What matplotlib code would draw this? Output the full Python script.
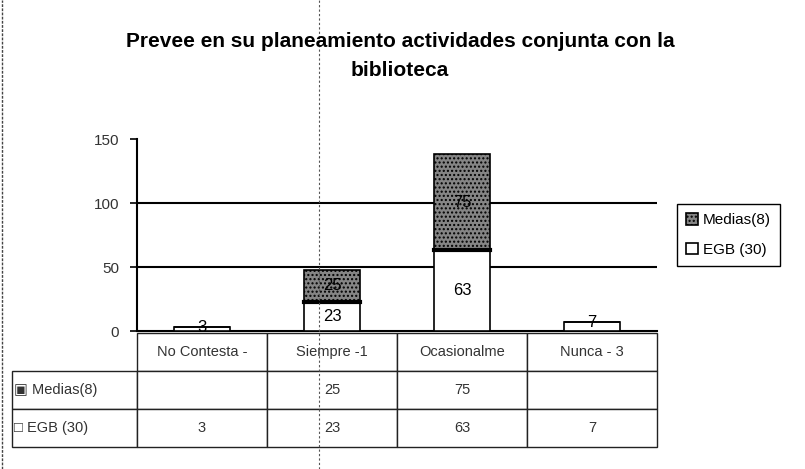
import matplotlib
matplotlib.use("Agg")
import matplotlib.pyplot as plt
import numpy as np

plt.rcParams['font.family'] = ['Liberation Sans', 'DejaVu Sans']
plt.rcParams['hatch.color'] = 'black'

TITLE = "Prevee en su planeamiento actividades conjunta con la\nbiblioteca"
categories = ["No Contesta -", "Siempre -1", "Ocasionalme", "Nunca - 3"]
egb = [3, 23, 63, 7]
medias = [0, 25, 75, 0]
series_names = ["Medias(8)", "EGB (30)"]
row_labels = ["\u25a3 Medias(8)", "\u25a1 EGB (30)"]
yticks = [0, 50, 100, 150]

fig = plt.figure(figsize=(8.05, 4.69), dpi=100)
W, H = 805, 469
# axes: x 137..657 px, y 139..331 px (top..zero)
ax = fig.add_axes([137 / W, (H - 331) / H, (657 - 137) / W, (331 - 139) / H])

x = np.arange(len(categories))
bw = 0.43
b_egb = ax.bar(x, egb, bw, color="white", edgecolor="black", linewidth=1.2, zorder=3)
b_med = ax.bar(x, medias, bw, bottom=egb, color="#858585", edgecolor="black",
               linewidth=1.2, hatch="....", zorder=3)
# thick divider between segments
for xi, e, m in zip(x, egb, medias):
    if m > 0:
        ax.plot([xi - bw / 2, xi + bw / 2], [e, e], color="black", lw=3, zorder=4)

for rect, v in zip(b_egb, egb):
    cy = rect.get_height() / 2 if v > 10 else rect.get_height()
    ax.text(rect.get_x() + bw / 2, cy, str(v), ha="center", va="center",
            fontsize=12, zorder=5)
for rect, v, e in zip(b_med, medias, egb):
    if v > 0:
        ax.text(rect.get_x() + bw / 2, e + v / 2, str(v), ha="center", va="center",
                fontsize=12, zorder=5)

ax.set_xlim(-0.5, len(categories) - 0.5)
ax.set_ylim(0, 150)
ax.set_yticks(yticks)
ax.set_yticklabels([str(t) for t in yticks], fontsize=11, color="#333333")
ax.tick_params(axis="y", length=5, width=1.2, pad=8)
ax.set_xticks([])
for t in [50, 100]:
    ax.axhline(t, color="black", lw=1.5, zorder=1)
for s in ["top", "right"]:
    ax.spines[s].set_visible(False)
ax.spines["left"].set_linewidth(1.5)
ax.spines["bottom"].set_linewidth(1.5)

# data table below the axes (first column holds the row labels)
cell_text = [[row_labels[0]] + ["" if v == 0 else str(v) for v in medias],
             [row_labels[1]] + [str(v) for v in egb]]
tab = ax.table(cellText=cell_text, colLabels=[""] + categories,
               cellLoc="center", colLoc="center",
               colWidths=[125] + [130] * 4,
               bbox=[(12 - 137) / 520, (331 - 447) / 192,
                     (657 - 12) / 520, (447 - 333) / 192])
tab.auto_set_font_size(False)
tab.set_fontsize(10.5)
for (r, c), cell in tab.get_celld().items():
    cell.set_linewidth(1.0)
    cell.set_edgecolor("#222222")
    cell.get_text().set_color("#333333")
    if c == 0:
        cell.get_text().set_ha("left")
        cell.PAD = 0.02
    if r == 0 and c == 0:
        cell.set_linewidth(0)
        cell.set_facecolor("none")

fig.legend([b_med, b_egb], series_names, loc="center left",
           bbox_to_anchor=(677 / W, (H - 235) / H), borderaxespad=0,
           fancybox=False, edgecolor="black", fontsize=11, handlelength=0.8,
           handleheight=0.8, handletextpad=0.3, borderpad=0.6, labelspacing=1.0,
           framealpha=1)

fig.text(400 / W, (H - 56) / H, TITLE, ha="center", va="center", fontsize=15,
         fontweight="bold", linespacing=1.65)

# left frame edge and scan fold line
fig.add_artist(plt.Line2D([2 / W, 2 / W], [0, 1], color="#444444", lw=1.0,
                          ls=(0, (2, 1))))
fig.add_artist(plt.Line2D([319 / W, 319 / W], [0, 1], color="#555555", lw=0.8,
                          ls=(0, (2, 2))))

fig.savefig("out.png", dpi=100)
